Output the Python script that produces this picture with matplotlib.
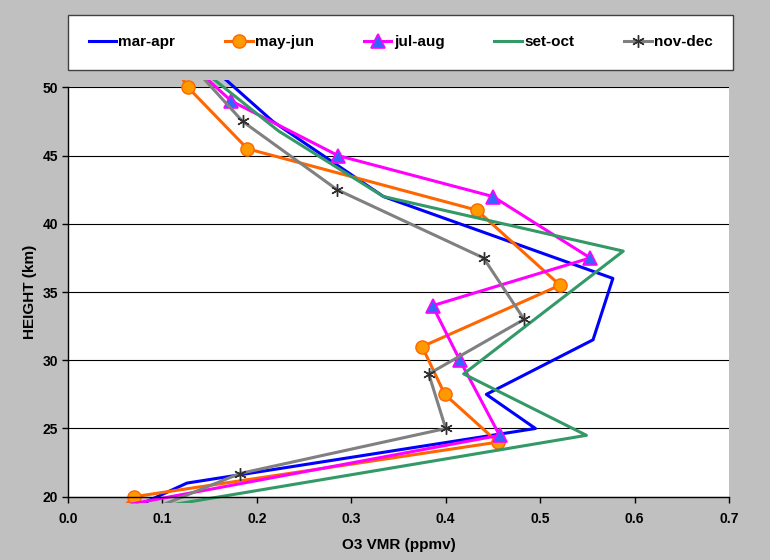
import numpy as np
import matplotlib
matplotlib.use('Agg')
from matplotlib import pyplot as plt
from matplotlib.patches import Rectangle
from matplotlib.ticker import FormatStrFormatter, MultipleLocator

plt.rcParams['font.family'] = ['Liberation Sans', 'DejaVu Sans']
plt.rcParams['font.weight'] = 'bold'

# Ozone profiles (height in km, VMR in ppmv), points just past 20/50 km get clipped
labels = ['mar-apr', 'may-jun', 'jul-aug', 'set-oct', 'nov-dec']

mar_apr_h = [51, 47.5, 42, 36, 31.5, 27.5, 25, 21, 19]
mar_apr_v = [0.160, 0.217, 0.334, 0.577, 0.556, 0.443, 0.495, 0.126, 0.063]

may_jun_h = [51, 50, 45.5, 41, 35.5, 31, 27.5, 24, 20, 19]
may_jun_v = [0.118, 0.127, 0.190, 0.433, 0.521, 0.375, 0.399, 0.455, 0.070, 0.055]

jul_aug_h = [51, 49, 45, 42, 37.5, 34, 30, 24.5, 19]
jul_aug_v = [0.141, 0.173, 0.286, 0.450, 0.553, 0.386, 0.415, 0.457, 0.031]

set_oct_h = [51, 46.8, 42, 38, 29, 24.5, 19]
set_oct_v = [0.147, 0.223, 0.334, 0.588, 0.419, 0.549, 0.075]

nov_dec_h = [51, 47.5, 42.5, 37.5, 33, 29, 25, 21.7, 19]
nov_dec_v = [0.139, 0.185, 0.285, 0.440, 0.483, 0.382, 0.400, 0.182, 0.086]

heights = [mar_apr_h, may_jun_h, jul_aug_h, set_oct_h, nov_dec_h]
values = [mar_apr_v, may_jun_v, jul_aug_v, set_oct_v, nov_dec_v]

styles = [
    dict(color='#0000FF', marker=None),
    dict(color='#FF6600', marker='o', markersize=9.5, markerfacecolor='#FF9900',
         markeredgecolor='#FF6600', markeredgewidth=1),
    dict(color='#FF00FF', marker='^', markersize=9.5, markerfacecolor='#3366FF',
         markeredgecolor='#FF00FF', markeredgewidth=1.2),
    dict(color='#339966', marker=None),
    dict(color='#808080', marker=(6, 2, 0), markersize=9, markeredgecolor='#303030',
         markeredgewidth=1),
]

fig = plt.figure(figsize=(7.7, 5.6), dpi=100, facecolor='#C0C0C0')
ax = fig.add_axes([0.0883, 0.113, 0.8585, 0.731])
ax.set_facecolor('white')

clip = Rectangle((0, 19.55), 0.7, 30.98, transform=ax.transData)

for h, v, lab, st in zip(heights, values, labels, styles):
    h = np.array(h)
    inside = list(np.where((h >= 20) & (h <= 50))[0])
    line, = ax.plot(v, h, lw=2.2, label=lab, markevery=inside, **st)
    line.set_clip_path(clip)

ax.set_xlim(0, 0.7)
ax.set_ylim(20, 50)
ax.xaxis.set_major_locator(MultipleLocator(0.1))
ax.xaxis.set_major_formatter(FormatStrFormatter('%.1f'))
ax.yaxis.set_major_locator(MultipleLocator(5))

ax.yaxis.grid(True, color='black', lw=0.8)
ax.set_axisbelow(True)
ax.get_ygridlines()[-1].set_visible(False)

for s in ['top', 'right']:
    ax.spines[s].set_visible(False)
for s in ['left', 'bottom']:
    ax.spines[s].set_color('black')
    ax.spines[s].set_linewidth(1)

ax.tick_params(direction='out', length=4, width=1, labelsize=10, pad=3)
ax.tick_params(axis='x', pad=7)

ax.set_xlabel('O3 VMR (ppmv)', fontsize=11, fontweight='bold', labelpad=9)
ax.set_ylabel('HEIGHT (km)', fontsize=11, fontweight='bold', labelpad=4)

leg = fig.legend(loc='lower left', bbox_to_anchor=(0.0883, 0.875, 0.864, 0.098),
                 mode='expand', ncol=5, fontsize=11, frameon=True, fancybox=False,
                 framealpha=1, handlelength=1.8, handletextpad=0.15,
                 borderaxespad=0, borderpad=1.35)
leg.get_frame().set_edgecolor('#404040')
leg.get_frame().set_linewidth(1)
leg.get_frame().set_facecolor('white')

fig.savefig('out.png', dpi=100, facecolor=fig.get_facecolor())
